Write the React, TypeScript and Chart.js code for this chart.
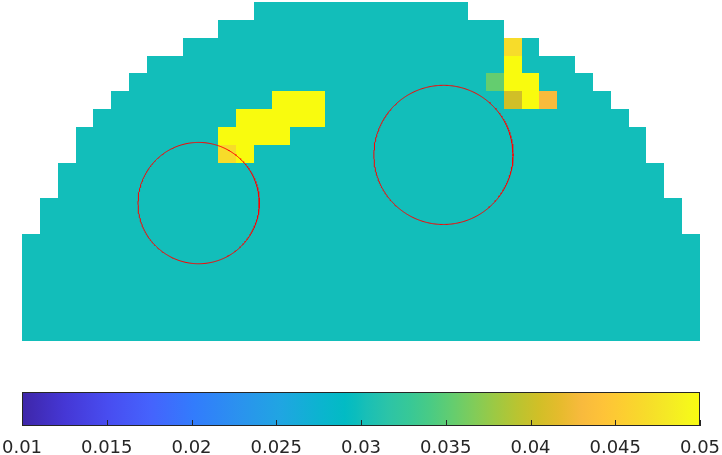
import React, { useEffect, useRef } from "react";
import { Chart, registerables } from "chart.js";

Chart.register(...registerables);

// ---------- data ----------
const N_COLS = 38;
const N_ROWS = 19;
// number of empty cells at each side of every row (top row first)
const ROW_OFFSET = [13, 11, 9, 7, 6, 5, 4, 3, 3, 2, 2, 1, 1, 0, 0, 0, 0, 0, 0];
const BASE_VALUE = 0.03;
// cells that differ from the base value (row from top, column from left)
const HOT_ROW = [5, 5, 5, 6, 6, 6, 6, 6, 7, 7, 7, 7, 8, 8, 2, 3, 4, 4, 4, 5, 5, 5];
const HOT_COL = [14, 15, 16, 12, 13, 14, 15, 16, 11, 12, 13, 14, 11, 12, 27, 27, 26, 27, 28, 27, 28, 29];
const HOT_VALUE = [
  0.05, 0.05, 0.05, 0.05, 0.05, 0.05, 0.05, 0.05, 0.05, 0.05, 0.05, 0.05, 0.0468, 0.05,
  0.0468, 0.05, 0.0354, 0.05, 0.05, 0.0405, 0.05, 0.0432,
];
// red circles (centre column, centre row from top, radius) in cell units
const CIRCLE_X = [9.9, 23.62];
const CIRCLE_Y = [11.27, 8.57];
const CIRCLE_R = [3.4, 3.9];

const CBAR_MIN = 0.01;
const CBAR_MAX = 0.05;
const CBAR_TICKS = [0.01, 0.015, 0.02, 0.025, 0.03, 0.035, 0.04, 0.045, 0.05];
const CBAR_LABELS = ["0.01", "0.015", "0.02", "0.025", "0.03", "0.035", "0.04", "0.045", "0.05"];

// parula colour map stops
const CMAP_T = [0, 0.063, 0.127, 0.19, 0.254, 0.317, 0.381, 0.444, 0.476, 0.492, 0.508, 0.54, 0.571, 0.603, 0.635, 0.667, 0.698, 0.73, 0.762, 0.794, 0.825, 0.857, 0.889, 0.921, 0.952, 0.984, 1];
const CMAP_RGB = [
  [62, 38, 168], [69, 55, 213], [72, 77, 240], [69, 99, 253], [50, 124, 252], [43, 145, 239],
  [32, 165, 226], [10, 181, 206], [2, 187, 196], [11, 189, 189], [25, 191, 182], [44, 196, 167],
  [55, 200, 151], [74, 203, 132], [100, 205, 111], [129, 204, 89], [157, 201, 67], [185, 196, 49],
  [209, 191, 39], [230, 187, 45], [248, 186, 61], [254, 195, 56], [252, 207, 48], [247, 220, 42],
  [245, 233, 37], [246, 247, 27], [249, 251, 14],
];

function colorAt(t: number): string {
  t = Math.max(0, Math.min(1, t));
  let i = 0;
  while (i < CMAP_T.length - 2 && t > CMAP_T[i + 1]) i++;
  const f = (t - CMAP_T[i]) / (CMAP_T[i + 1] - CMAP_T[i]);
  const a = CMAP_RGB[i], b = CMAP_RGB[i + 1];
  const c = a.map((v, k) => Math.round(v + (b[k] - v) * f));
  return `rgb(${c[0]},${c[1]},${c[2]})`;
}
const valueColor = (v: number) => colorAt((v - CBAR_MIN) / (CBAR_MAX - CBAR_MIN));

function buildCells() {
  const cells: { x: number; y: number; v: number }[] = [];
  for (let r = 0; r < N_ROWS; r++) {
    for (let c = ROW_OFFSET[r]; c < N_COLS - ROW_OFFSET[r]; c++) {
      let v = BASE_VALUE;
      for (let k = 0; k < HOT_ROW.length; k++) if (HOT_ROW[k] === r && HOT_COL[k] === c) v = HOT_VALUE[k];
      cells.push({ x: c + 0.5, y: r + 0.5, v });
    }
  }
  return cells;
}

function circlePoints(cx: number, cy: number, r: number) {
  const pts: { x: number; y: number }[] = [];
  const n = 360;
  for (let i = 0; i <= n; i++) {
    const a = (i / n) * Math.PI * 2;
    pts.push({ x: cx + r * Math.cos(a), y: cy + r * Math.sin(a) });
  }
  return pts;
}

const heatmapPlugin = {
  id: "heatmapCells",
  beforeDatasetsDraw(chart: any) {
    const ds = chart.data.datasets[0];
    const xs = chart.scales.x, ys = chart.scales.y;
    const ctx = chart.ctx;
    ctx.save();
    for (const d of ds.data) {
      const l = Math.round(xs.getPixelForValue(d.x - 0.5));
      const r = Math.round(xs.getPixelForValue(d.x + 0.5));
      const t = Math.round(ys.getPixelForValue(d.y - 0.5));
      const b = Math.round(ys.getPixelForValue(d.y + 0.5));
      ctx.fillStyle = valueColor(d.v);
      ctx.fillRect(l, Math.min(t, b), r - l, Math.abs(b - t));
    }
    ctx.restore();
  },
};

const colorbarPlugin = {
  id: "colorbarFill",
  beforeDatasetsDraw(chart: any) {
    const { ctx, chartArea } = chart;
    const xs = chart.scales.x;
    const g = ctx.createLinearGradient(chartArea.left, 0, chartArea.right, 0);
    for (let i = 0; i < CMAP_T.length; i++) g.addColorStop(CMAP_T[i], `rgb(${CMAP_RGB[i].join(",")})`);
    const L = Math.round(chartArea.left), R = Math.round(chartArea.right);
    const T = Math.round(chartArea.top), B = Math.round(chartArea.bottom);
    ctx.save();
    ctx.fillStyle = g;
    ctx.fillRect(L, T, R - L, B - T);
    ctx.strokeStyle = "#262626";
    ctx.lineWidth = 1;
    ctx.beginPath();
    for (const t of xs.ticks) {
      const px = Math.round(xs.getPixelForValue(t.value)) + 0.5;
      ctx.moveTo(px, B);
      ctx.lineTo(px, B - 6);
    }
    ctx.stroke();
    ctx.strokeRect(L + 0.5, T + 0.5, R - L - 1, B - T - 1);
    ctx.restore();
  },
};

export default function App() {
  const mainRef = useRef<HTMLCanvasElement | null>(null);
  const barRef = useRef<HTMLCanvasElement | null>(null);

  useEffect(() => {
    const main = new Chart(mainRef.current as HTMLCanvasElement, {
      type: "scatter",
      data: {
        datasets: [
          { label: "cells", data: buildCells() as any, pointRadius: 0, showLine: false },
          ...CIRCLE_X.map((cx, i) => ({
            label: "circle" + i,
            data: circlePoints(cx, CIRCLE_Y[i], CIRCLE_R[i]),
            showLine: true,
            pointRadius: 0,
            borderColor: "#ff0000",
            borderWidth: 1,
            fill: false,
            tension: 0,
          })),
        ],
      },
      options: {
        responsive: false,
        animation: false,
        events: [],
        layout: { padding: { left: 22, right: 22, top: 2, bottom: 114 } },
        plugins: { legend: { display: false }, tooltip: { enabled: false } },
        scales: {
          x: { type: "linear", min: 0, max: N_COLS, display: false },
          y: { type: "linear", min: 0, max: N_ROWS, reverse: true, display: false },
        },
      },
      plugins: [heatmapPlugin],
    });

    const bar = new Chart(barRef.current as HTMLCanvasElement, {
      type: "scatter",
      data: { datasets: [{ label: "cbar", data: [], pointRadius: 0 }] },
      options: {
        responsive: false,
        animation: false,
        events: [],
        layout: { padding: { left: 22, right: 22, top: 392, bottom: 0 } },
        plugins: { legend: { display: false }, tooltip: { enabled: false } },
        scales: {
          x: {
            type: "linear",
            min: CBAR_MIN,
            max: CBAR_MAX,
            afterBuildTicks: (s: any) => {
              s.ticks = CBAR_TICKS.map((v) => ({ value: v }));
            },
            afterFit: (s: any) => {
              s.paddingLeft = 0;
              s.paddingRight = 0;
              s.height = 29;
            },
            ticks: {
              padding: 12,
              color: "#262626",
              font: { family: "DejaVu Sans", size: 18 },
              maxRotation: 0,
              autoSkip: false,
              callback: (v: any) => {
                const i = CBAR_TICKS.findIndex((t) => Math.abs(t - v) < 1e-9);
                return i >= 0 ? CBAR_LABELS[i] : "";
              },
            },
            grid: { display: false, drawTicks: false },
            border: { display: false },
          },
          y: { min: 0, max: 1, display: false },
        },
      },
      plugins: [colorbarPlugin],
    });

    return () => {
      main.destroy();
      bar.destroy();
    };
  }, []);

  return (
    <div style={{ position: "fixed", left: 0, top: 0, width: 722, height: 455, background: "#fff" }}>
      <canvas ref={mainRef} width={722} height={455} style={{ position: "absolute", left: 0, top: 0 }} />
      <canvas ref={barRef} width={722} height={455} style={{ position: "absolute", left: 0, top: 0 }} />
    </div>
  );
}
